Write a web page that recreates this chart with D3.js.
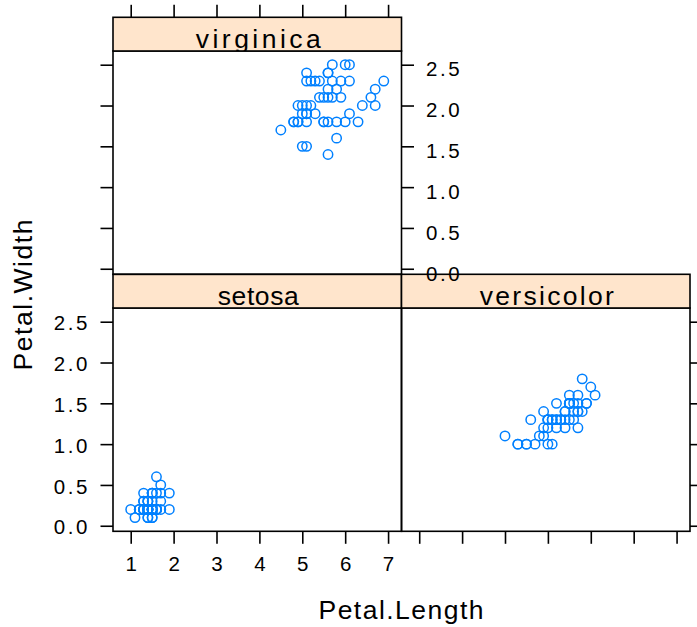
<!DOCTYPE html>
<html><head><meta charset="utf-8">
<script src="https://cdn.jsdelivr.net/npm/d3@7"></script>
<style>html,body{margin:0;padding:0;background:#fff;}svg{display:block;}</style>
</head><body>
<script>
// ---- data (iris: Petal.Length / Petal.Width by species) ----
const speciesNames = ["setosa", "versicolor", "virginica"];
const setosaLength = [1.4,1.4,1.3,1.5,1.4,1.7,1.4,1.5,1.4,1.5,1.5,1.6,1.4,1.1,1.2,1.5,1.3,1.4,1.7,1.5,1.7,1.5,1.0,1.7,1.9,1.6,1.6,1.5,1.4,1.6,1.6,1.5,1.5,1.4,1.5,1.2,1.3,1.4,1.3,1.5,1.3,1.3,1.3,1.6,1.9,1.4,1.6,1.4,1.5,1.4];
const setosaWidth  = [0.2,0.2,0.2,0.2,0.2,0.4,0.3,0.2,0.2,0.1,0.2,0.2,0.1,0.1,0.2,0.4,0.4,0.3,0.3,0.3,0.2,0.4,0.2,0.5,0.2,0.2,0.4,0.2,0.2,0.2,0.2,0.4,0.1,0.2,0.2,0.2,0.2,0.1,0.2,0.2,0.3,0.3,0.2,0.6,0.4,0.3,0.2,0.2,0.2,0.2];
const versicolorLength = [4.7,4.5,4.9,4.0,4.6,4.5,4.7,3.3,4.6,3.9,3.5,4.2,4.0,4.7,3.6,4.4,4.5,4.1,4.5,3.9,4.8,4.0,4.9,4.7,4.3,4.4,4.8,5.0,4.5,3.5,3.8,3.7,3.9,5.1,4.5,4.5,4.7,4.4,4.1,4.0,4.4,4.6,4.0,3.3,4.2,4.2,4.2,4.3,3.0,4.1];
const versicolorWidth  = [1.4,1.5,1.5,1.3,1.5,1.3,1.6,1.0,1.3,1.4,1.0,1.5,1.0,1.4,1.3,1.4,1.5,1.0,1.5,1.1,1.8,1.3,1.5,1.2,1.3,1.4,1.4,1.7,1.5,1.0,1.1,1.0,1.2,1.6,1.5,1.6,1.5,1.3,1.3,1.3,1.2,1.4,1.2,1.0,1.3,1.2,1.3,1.3,1.1,1.3];
const virginicaLength = [6.0,5.1,5.9,5.6,5.8,6.6,4.5,6.3,5.8,6.1,5.1,5.3,5.5,5.0,5.1,5.3,5.5,6.7,6.9,5.0,5.7,4.9,6.7,4.9,5.7,6.0,4.8,4.9,5.6,5.8,6.1,6.4,5.6,5.1,5.6,6.1,5.6,5.5,4.8,5.4,5.6,5.1,5.1,5.9,5.7,5.2,5.0,5.2,5.4,5.1];
const virginicaWidth  = [2.5,1.9,2.1,1.8,2.2,2.1,1.7,1.8,1.8,2.5,2.0,1.9,2.1,2.0,2.4,2.3,1.8,2.2,2.3,1.5,2.3,2.0,2.0,1.8,2.1,1.8,1.8,1.8,2.1,1.6,1.9,2.0,2.2,1.5,1.4,2.3,2.4,1.8,1.8,2.1,2.4,2.3,1.9,2.3,2.5,2.3,1.9,2.0,2.3,1.8];
const xTickValues = [1, 2, 3, 4, 5, 6, 7];
const xTickLabels = ["1", "2", "3", "4", "5", "6", "7"];
const yTickValues = [0, 0.5, 1, 1.5, 2, 2.5];
const yTickLabels = ["0.0", "0.5", "1.0", "1.5", "2.0", "2.5"];
const xLabel = "Petal.Length";
const yLabel = "Petal.Width";

const seriesLength = {setosa: setosaLength, versicolor: versicolorLength, virginica: virginicaLength};
const seriesWidth  = {setosa: setosaWidth,  versicolor: versicolorWidth,  virginica: virginicaWidth};

// ---- layout ----
const W = 697, H = 627;
const colX = [113, 401.5], colW = 288.5;
const rowTop = [17.3, 274.3], stripH = 33.7, panelH = 223.3;
// panel placement: [col, row] (row 0 = top)
const place = {setosa: [0, 1], versicolor: [1, 1], virginica: [0, 0]};
const stripTextWidth = {setosa: 81, versicolor: 134, virginica: 125};
const FONT = "'Liberation Sans', Arial, Helvetica, sans-serif";
const tickLen = 12.5;
const symCol = "#0080ff", stripCol = "#ffe5cc";

const svg = d3.select("body").append("svg").attr("width", W).attr("height", H);
svg.append("rect").attr("width", W).attr("height", H).attr("fill", "#fff");

// shared limits as in lattice (range extended by 7%)
const allL = setosaLength.concat(versicolorLength, virginicaLength);
const allW = setosaWidth.concat(versicolorWidth, virginicaWidth);
const pad = (e) => { const d = (e[1] - e[0]) * 0.07; return [e[0] - d, e[1] + d]; };
const xDom = pad(d3.extent(allL)), yDom = pad(d3.extent(allW));

const defs = svg.append("defs");
const gPanels = svg.append("g");
const gAxes = svg.append("g");

speciesNames.forEach((sp, i) => {
  const [c, r] = place[sp];
  const x0 = colX[c], x1 = x0 + colW;
  const sTop = rowTop[r], pTop = sTop + stripH, pBot = pTop + panelH;
  const x = d3.scaleLinear().domain(xDom).range([x0, x1]);
  const y = d3.scaleLinear().domain(yDom).range([pBot, pTop]);
  const g = gPanels.append("g");

  // points
  const pts = seriesLength[sp].map((v, k) => [v, seriesWidth[sp][k]]);
  g.append("g").selectAll("circle").data(pts).join("circle")
    .attr("cx", d => x(d[0])).attr("cy", d => y(d[1])).attr("r", 4.7)
    .attr("fill", "none").attr("stroke", symCol).attr("stroke-width", 1.5);
  // panel frame
  g.append("rect").attr("x", x0).attr("y", pTop).attr("width", colW).attr("height", panelH)
    .attr("fill", "none").attr("stroke", "#000").attr("stroke-width", 1.6);
  // strip
  const cid = "clip" + i;
  defs.append("clipPath").attr("id", cid).append("rect")
    .attr("x", x0).attr("y", sTop).attr("width", colW).attr("height", stripH);
  g.append("rect").attr("x", x0).attr("y", sTop).attr("width", colW).attr("height", stripH)
    .attr("fill", stripCol).attr("stroke", "none");
  g.append("text").attr("clip-path", `url(#${cid})`)
    .attr("x", (x0 + x1) / 2 + 1).attr("y", sTop + stripH - 3.5)
    .attr("text-anchor", "middle").attr("font-family", FONT).attr("font-size", 26.5)
    .attr("textLength", stripTextWidth[sp]).attr("lengthAdjust", "spacing")
    .attr("fill", "#000").text(sp);
  g.append("rect").attr("x", x0).attr("y", sTop).attr("width", colW).attr("height", stripH)
    .attr("fill", "none").attr("stroke", "#000").attr("stroke-width", 1.6);

  // axes (lattice style: outer sides only)
  const ga = gAxes.append("g");
  const styleTicks = (sel) => {
    sel.selectAll(".domain").remove();
    sel.selectAll(".tick line").attr("stroke", "#000").attr("stroke-width", 1.6);
    sel.selectAll(".tick text").attr("font-family", FONT).attr("font-size", 20.5)
      .attr("letter-spacing", 2.6).attr("fill", "#000");
  };
  const fmtY = (d) => yTickLabels[yTickValues.indexOf(d)];
  const fmtX = (d) => xTickLabels[xTickValues.indexOf(d)];
  if (c === 0) { // left
    const showLab = (r === 1);
    const a = d3.axisLeft(y).tickValues(yTickValues).tickSize(tickLen).tickPadding(13)
      .tickFormat(showLab ? fmtY : () => "");
    ga.append("g").attr("transform", `translate(${x0},0)`).call(a).call(styleTicks)
      .selectAll(".tick text").attr("dx", "2.6").attr("dy", "0.4em");
  }
  if (r === 1) { // bottom
    const showLab = (c === 0);
    const a = d3.axisBottom(x).tickValues(xTickValues).tickSize(tickLen).tickPadding(13)
      .tickFormat(showLab ? fmtX : () => "");
    ga.append("g").attr("transform", `translate(0,${pBot})`).call(a).call(styleTicks)
      .selectAll(".tick text").attr("dx", "1.3");
  }
  if (r === 0) { // top
    const a = d3.axisTop(x).tickValues(xTickValues).tickSize(tickLen).tickFormat(() => "");
    ga.append("g").attr("transform", `translate(0,${sTop})`).call(a).call(styleTicks);
  }
  // right axis on the last panel of each row
  const lastInRow = (r === 0 && c === 0) || (r === 1 && c === 1);
  if (lastInRow) {
    const showLab = (r === 0);
    const a = d3.axisRight(y).tickValues(yTickValues).tickSize(tickLen).tickPadding(12)
      .tickFormat(showLab ? fmtY : () => "");
    ga.append("g").attr("transform", `translate(${x1},0)`).call(a).call(styleTicks)
      .selectAll(".tick text").attr("dy", "0.55em");
  }
});

// axis titles
svg.append("text").attr("x", 401).attr("y", 619).attr("text-anchor", "middle")
  .attr("font-family", FONT).attr("font-size", 26.5)
  .attr("textLength", 165).attr("lengthAdjust", "spacing")
  .attr("fill", "#000").text(xLabel);
svg.append("text").attr("transform", "translate(32,295) rotate(-90)").attr("text-anchor", "middle")
  .attr("font-family", FONT).attr("font-size", 26.5)
  .attr("textLength", 151).attr("lengthAdjust", "spacing")
  .attr("fill", "#000").text(yLabel);
</script>
</body></html>
